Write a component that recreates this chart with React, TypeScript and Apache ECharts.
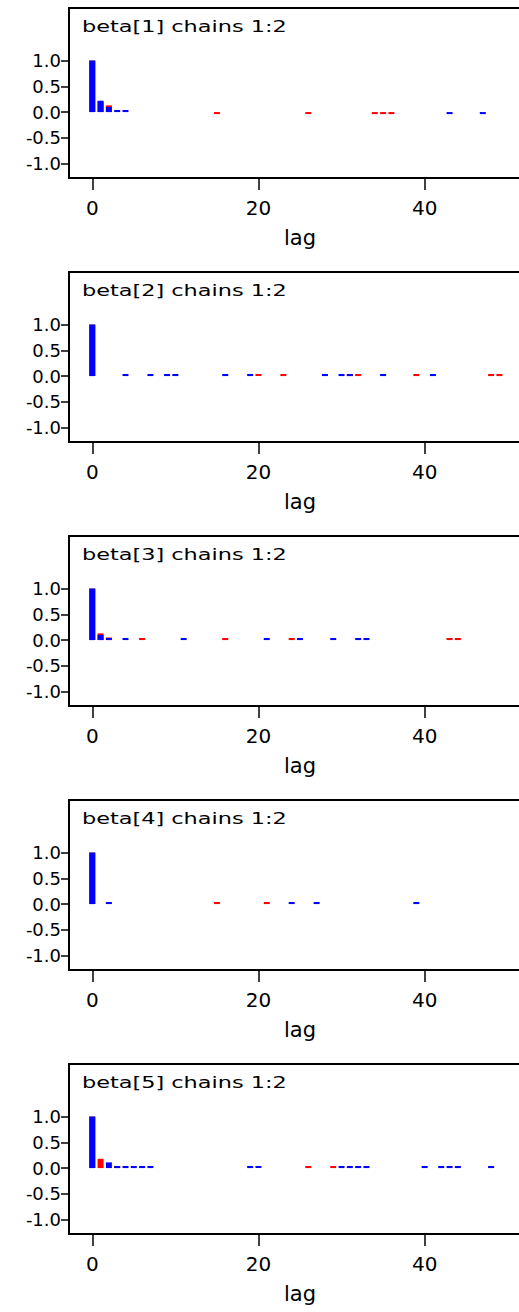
import React, { useEffect, useRef } from "react";
import * as echarts from "echarts";

// Autocorrelation plots for five regression coefficients, two MCMC chains each.
const params = ["beta[1]", "beta[2]", "beta[3]", "beta[4]", "beta[5]"];
const xTicks = [0, 20, 40];
const yTicks = [-1, -0.5, 0, 0.5, 1];

// [lag, autocorrelation] — chain 1 (blue)
const beta1Chain1 = [[0, 1.0], [1, 0.22], [2, 0.1], [3, 0.04], [4, 0.04], [43, -0.04], [47, -0.04]];
const beta2Chain1 = [[0, 1.0], [4, 0.04], [7, 0.04], [9, 0.04], [10, 0.04], [16, 0.04], [19, 0.04], [28, 0.04], [30, 0.04], [31, 0.04], [35, 0.04], [41, 0.04]];
const beta3Chain1 = [[0, 1.0], [1, 0.1], [2, 0.04], [4, 0.04], [11, 0.04], [21, 0.04], [25, 0.04], [29, 0.04], [32, 0.04], [33, 0.04]];
const beta4Chain1 = [[0, 1.0], [2, 0.04], [24, 0.04], [27, 0.04], [39, 0.04]];
const beta5Chain1 = [[0, 1.0], [2, 0.11], [3, 0.04], [4, 0.04], [5, 0.04], [6, 0.04], [7, 0.04], [19, 0.04], [20, 0.04], [30, 0.04], [31, 0.04], [32, 0.04], [33, 0.04], [40, 0.04], [42, 0.04], [43, 0.04], [44, 0.04], [48, 0.04]];

// [lag, autocorrelation] — chain 2 (red)
const beta1Chain2 = [[0, 1.0], [1, 0.2], [2, 0.13], [15, -0.04], [26, -0.04], [34, -0.04], [35, -0.04], [36, -0.04]];
const beta2Chain2 = [[0, 1.0], [20, 0.04], [23, 0.04], [31, 0.04], [32, 0.04], [39, 0.04], [48, 0.04], [49, 0.04]];
const beta3Chain2 = [[0, 1.0], [1, 0.13], [2, 0.05], [6, 0.04], [16, 0.04], [24, 0.04], [43, 0.04], [44, 0.04]];
const beta4Chain2 = [[0, 1.0], [15, 0.04], [21, 0.04]];
const beta5Chain2 = [[0, 1.0], [1, 0.18], [3, 0.04], [26, 0.04], [29, 0.04]];

const chain1 = [beta1Chain1, beta2Chain1, beta3Chain1, beta4Chain1, beta5Chain1];
const chain2 = [beta1Chain2, beta2Chain2, beta3Chain2, beta4Chain2, beta5Chain2];

const PANEL_STEP = 264;
const FONT = '"DejaVu Sans", sans-serif';

export default function App() {
  const ref = useRef<HTMLDivElement | null>(null);

  useEffect(() => {
    if (!ref.current) return;
    const chart = echarts.init(ref.current, undefined, { renderer: "svg" });

    const grid: any[] = [];
    const xAxis: any[] = [];
    const yAxis: any[] = [];
    const series: any[] = [];
    const graphic: any[] = [];

    params.forEach((p, k) => {
      const top = 8 + PANEL_STEP * k;
      grid.push({
        left: 69,
        top,
        width: 462,
        height: 170,
        show: true,
        borderColor: "#000",
        borderWidth: 2,
        backgroundColor: "transparent",
        outerBoundsMode: "none",
        containLabel: false,
      });
      xAxis.push({
        gridIndex: k,
        type: "value",
        position: "bottom",
        min: -2.8,
        max: 52.8,
        axisLine: { show: false, onZero: false },
        splitLine: { show: false },
        axisTick: {
          show: true,
          length: 12,
          customValues: xTicks,
          lineStyle: { color: "#000", width: 1.5 },
        },
        axisLabel: {
          customValues: xTicks,
          margin: 20,
          fontSize: 20,
          fontFamily: FONT,
          color: "#000",
        },
        name: "lag",
        nameLocation: "middle",
        nameGap: 49,
        nameTextStyle: { fontSize: 21, fontFamily: FONT, color: "#000" },
      });
      yAxis.push({
        gridIndex: k,
        type: "value",
        position: "left",
        min: -1.28,
        max: 2.02,
        axisLine: { show: false, onZero: false },
        splitLine: { show: false },
        axisTick: {
          show: true,
          length: 8,
          customValues: yTicks,
          lineStyle: { color: "#000", width: 1.5 },
        },
        axisLabel: {
          customValues: yTicks,
          formatter: (v: number) => v.toFixed(1),
          margin: 8,
          fontSize: 18,
          fontFamily: FONT,
          color: "#000",
        },
      });
      series.push({
        type: "bar",
        xAxisIndex: k,
        yAxisIndex: k,
        data: chain2[k],
        barWidth: 6,
        barGap: "-100%",
        itemStyle: { color: "#ff0000" },
        silent: true,
      });
      series.push({
        type: "bar",
        xAxisIndex: k,
        yAxisIndex: k,
        data: chain1[k],
        barWidth: 6,
        barGap: "-100%",
        itemStyle: { color: "#0000ff" },
        silent: true,
      });
      graphic.push({
        type: "text",
        x: 82,
        y: top + 19,
        scaleX: 1.4,
        silent: true,
        style: {
          x: 0,
          y: 0,
          text: `${p} chains 1:2`,
          font: `16px ${FONT}`,
          fill: "#000",
          verticalAlign: "middle",
        },
      });
    });

    chart.setOption({
      animation: false,
      backgroundColor: "#fff",
      grid,
      xAxis,
      yAxis,
      series,
      graphic,
    });

    return () => chart.dispose();
  }, []);

  return (
    <div
      ref={ref}
      style={{ position: "absolute", left: 0, top: 0, width: 519, height: 1312 }}
    />
  );
}
